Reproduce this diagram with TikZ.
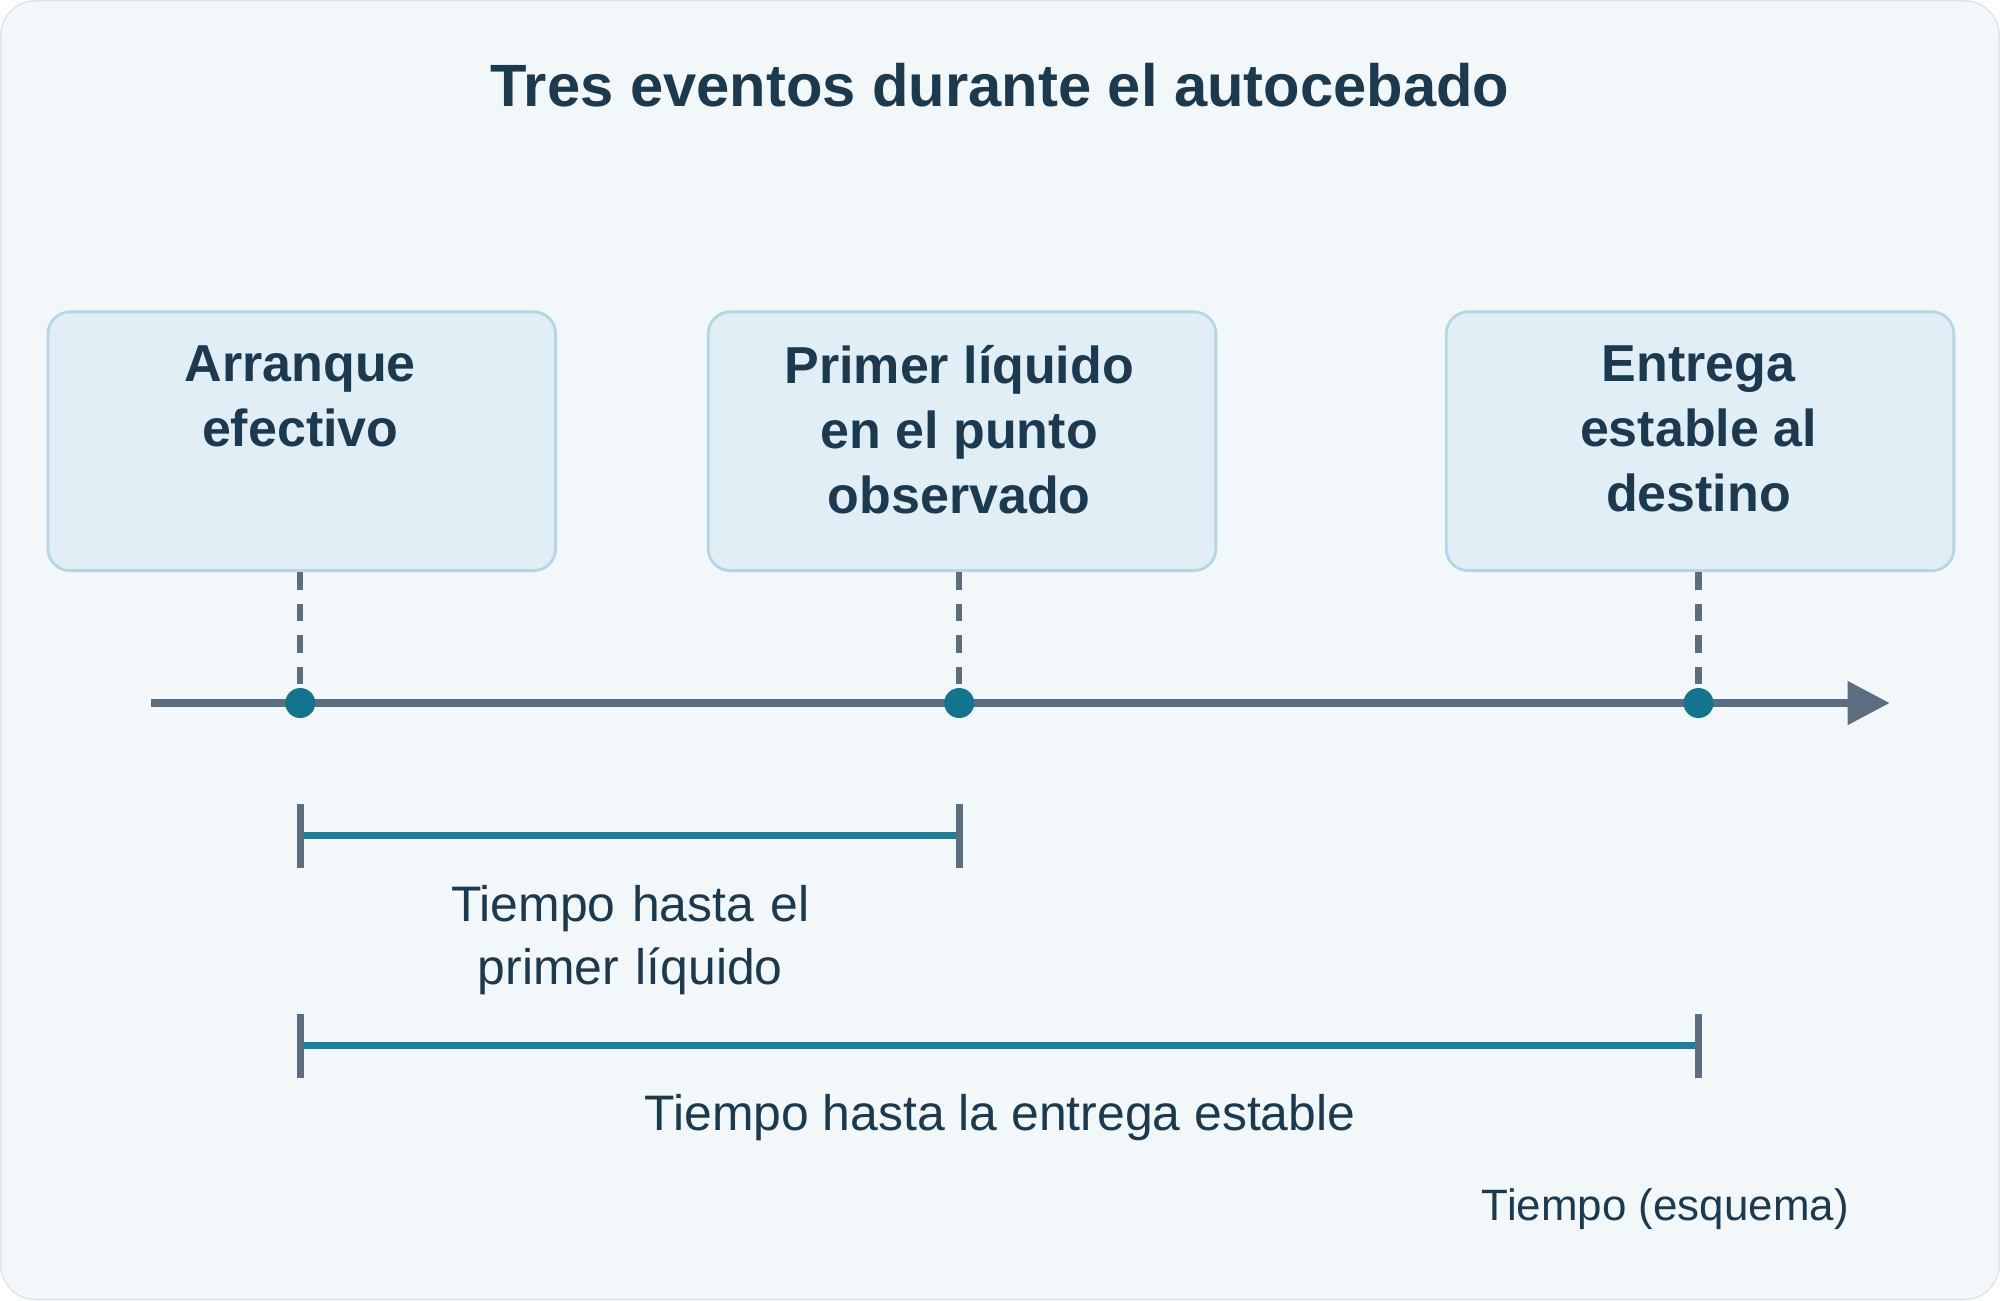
\documentclass[tikz,border=0pt]{standalone}
\usepackage{fontspec}
\setmainfont{Liberation Sans}
\usetikzlibrary{arrows.meta}
\definecolor{bg}{HTML}{F2F7FA}
\definecolor{frame}{HTML}{DCE4EA}
\definecolor{boxfill}{HTML}{E0EEF5}
\definecolor{boxline}{HTML}{B5D6E5}
\definecolor{ink}{HTML}{1B3A4F}
\definecolor{axis}{HTML}{5A6E7F}
\definecolor{teal}{HTML}{13748F}
\definecolor{span}{HTML}{1A7F9A}
\tikzset{
  event/.style={draw=boxline,fill=boxfill,rounded corners=0.22cm,line width=0.8pt,minimum width=5.08cm,minimum height=2.59cm,anchor=north west},
  evtext/.style={font=\bfseries\fontsize{14.8}{18.5}\selectfont,text=ink,align=center,anchor=north},
  dot/.style={circle,fill=teal,inner sep=0pt,minimum size=0.3cm},
  lbl/.style={font=\fontsize{14.2}{18}\selectfont,text=ink,align=center}
}
\begin{document}
\begin{tikzpicture}[x=0.012755cm,y=-0.012755cm]
  \draw[draw=frame,fill=bg,rounded corners=0.35cm] (0,0) rectangle (1568,1019);
  \useasboundingbox (0,0) rectangle (1568,1019);
  \node[font=\bfseries\fontsize{17}{20}\selectfont,text=ink] (title) at (784,66) {Tres eventos durante el autocebado};

  \node[event] (b1) at (36,243) {};
  \node[event] (b2) at (554,243) {};
  \node[event] (b3) at (1133,243) {};
  \node[evtext] at (235,261) {Arranque\\efectivo};
  \node[evtext] at (752,261) {Primer líquido\\en el punto\\observado};
  \node[evtext] at (1332,261) {Entrega\\estable al\\destino};

  \coordinate (a0) at (118,551);
  \coordinate (a1) at (1482,551);
  \draw[axis,line width=2.2pt,-{Triangle[length=0.42cm,width=0.42cm]}] (a0) -- (a1);
  \foreach \n/\x in {1/235,2/752,3/1332} {
    \node[dot] (d\n) at (\x,551) {};
    \draw[axis,line width=1.8pt,dash pattern=on 5pt off 4pt] (b\n.south -| d\n) -- (d\n.north);
  }

  \coordinate (s1) at (235,655);
  \coordinate (e1) at (752,655);
  \coordinate (s2) at (235,820);
  \coordinate (e2) at (1332,820);
  \foreach \s/\e in {s1/e1,s2/e2} {
    \draw[span,line width=2pt] (\s) -- (\e);
    \draw[axis,line width=2pt] ([yshift=0.32cm]\s) -- ([yshift=-0.32cm]\s);
    \draw[axis,line width=2pt] ([yshift=0.32cm]\e) -- ([yshift=-0.32cm]\e);
  }
  \node[lbl,text width=5.3cm] (l1) at (494,737) {Tiempo hasta el primer líquido};
  \node[lbl] (l2) at (784,876) {Tiempo hasta la entrega estable};
  \node[lbl,font=\fontsize{12.5}{15}\selectfont] (l3) at (1306,948) {Tiempo (esquema)};
\end{tikzpicture}
\end{document}
